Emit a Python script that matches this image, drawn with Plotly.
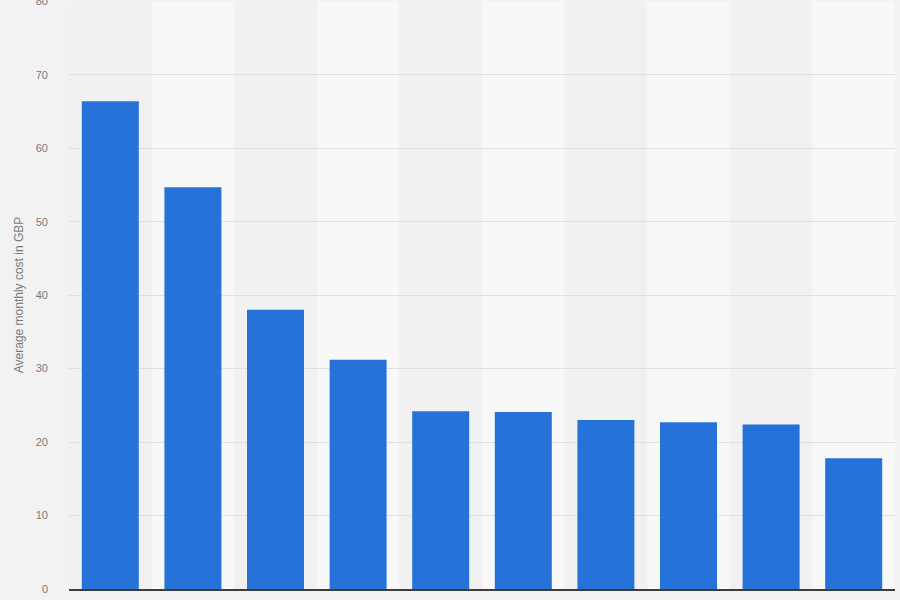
import plotly.graph_objects as go

# Data
categories = ['Cat 1', 'Cat 2', 'Cat 3', 'Cat 4', 'Cat 5',
              'Cat 6', 'Cat 7', 'Cat 8', 'Cat 9', 'Cat 10']
avg_cost = [66.4, 54.7, 38.0, 31.2, 24.2, 24.1, 23.0, 22.7, 22.4, 17.8]
y_ticks = [0, 10, 20, 30, 40, 50, 60, 70, 80]

# Colors
c_bar = '#2573d9'
c_band_dark = '#f1f1f1'
c_band_light = '#f8f8f8'
c_grid = '#e0e0e0'
c_text = '#7a7a7a'

fig = go.Figure(go.Bar(x=categories, y=avg_cost,
                       marker={'color': c_bar, 'line': {'width': 0}},
                       showlegend=False))

# alternating column bands behind the bars
for i, cat in enumerate(categories):
    fig.add_shape(type='rect', xref='x', yref='paper',
                  x0=i - 0.5, x1=i + 0.5, y0=0, y1=1,
                  fillcolor=c_band_dark if i % 2 == 0 else c_band_light,
                  line={'width': 0}, layer='below')

fig.update_xaxes(showticklabels=False, showgrid=False, zeroline=False,
                 showline=True, linecolor='#3c3c3c', linewidth=1.5,
                 range=[-0.5, len(categories) - 0.5])

fig.update_yaxes(range=[0, 80.05], tickvals=y_ticks, showgrid=True,
                 gridcolor=c_grid, gridwidth=1, zeroline=False,
                 automargin=False, ticklabeloverflow='allow',
                 tickfont={'family': 'Liberation Sans', 'size': 11, 'color': c_text},
                 ticklabelstandoff=20,
                 title={'text': 'Average monthly cost in GBP', 'standoff': 9,
                        'font': {'family': 'Liberation Sans', 'size': 12, 'color': c_text}})

fig.update_layout(width=900, height=600,
                  margin={'l': 69, 'r': 5, 't': 1, 'b': 11},
                  paper_bgcolor='#f2f2f2', plot_bgcolor='#f2f2f2',
                  bargap=0.31)

# page body margin off so the figure sits at the window corner
fig.write_html('out.html', config={'displayModeBar': False},
               post_script="document.body.style.margin='0';")
